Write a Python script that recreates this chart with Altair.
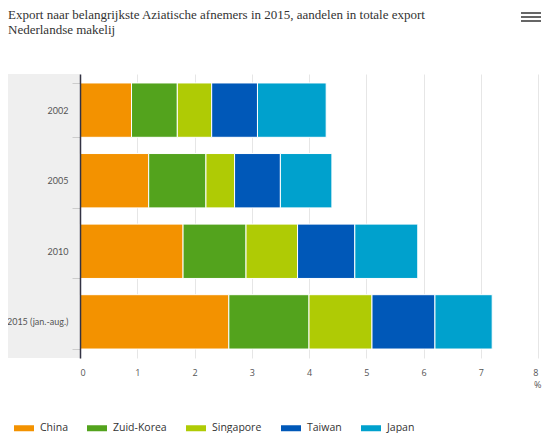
import altair as alt
import pandas as pd

years = ["2002", "2005", "2010", "2015 (jan.-aug.)"]
countries = ["China", "Zuid-Korea", "Singapore", "Taiwan", "Japan"]
colors = ["#f39200", "#53a31d", "#afcb05", "#0058b8", "#00a1cd"]
china = [0.9, 1.2, 1.8, 2.6]
zuid_korea = [0.8, 1.0, 1.1, 1.4]
singapore = [0.6, 0.5, 0.9, 1.1]
taiwan = [0.8, 0.8, 1.0, 1.1]
japan = [1.2, 0.9, 1.1, 1.0]
title_lines = ["Export naar belangrijkste Aziatische afnemers in 2015, aandelen in totale export",
               "Nederlandse makelij"]
x_ticks = [0, 1, 2, 3, 4, 5, 6, 7, 8]

series = [china, zuid_korea, singapore, taiwan, japan]
rows = []
for ci, (c, vals) in enumerate(zip(countries, series)):
    for y, v in zip(years, vals):
        rows.append({"jaar": y, "land": c, "waarde": v, "idx": ci})
df = pd.DataFrame(rows)

W, H = 458, 284
L = 72
one = pd.DataFrame({"a": [0]})

bg = alt.Chart(one).mark_rect(color="#efefef").encode(
    x=alt.value(-L), x2=alt.value(0), y=alt.value(0), y2=alt.value(H)
)

bars = alt.Chart(df).mark_bar(stroke="white", strokeWidth=1).encode(
    y=alt.Y("jaar:N", sort=years, title=None,
            scale=alt.Scale(paddingInner=0.23, paddingOuter=0.127),
            axis=alt.Axis(zindex=1, domainColor="#333344", domainWidth=1.5,
                          tickBand="extent", tickSize=8, tickColor="#cccccc",
                          labelFontSize=9, labelColor="#555555", labelFont="Lato",
                          labelPadding=4)),
    x=alt.X("waarde:Q", stack="zero", title=None,
            scale=alt.Scale(domain=[0, 8], nice=False),
            axis=alt.Axis(values=x_ticks, grid=True, gridColor="#e6e6e6", domain=False,
                          ticks=False, labelFontSize=9, labelColor="#555555",
                          labelFont="Open Sans", labelPadding=10, format="d")),
    color=alt.Color("land:N", sort=countries,
                    scale=alt.Scale(domain=countries, range=colors),
                    legend=alt.Legend(title=None, orient="none", direction="horizontal",
                                      legendX=-66, legendY=344,
                                      symbolType="M-1,-0.3H1V0.3H-1Z", symbolSize=400,
                                      symbolStrokeWidth=0, symbolOpacity=1,
                                      labelFontSize=10.5, labelColor="#333333",
                                      labelFont="Open Sans", columnPadding=19,
                                      labelOffset=6)),
    order=alt.Order("idx:Q"),
)

t1 = alt.Chart(one).mark_text(align="left", baseline="alphabetic", font="Liberation Serif",
                              fontSize=13, color="#333333").encode(
    x=alt.value(-L), y=alt.value(-55), text=alt.value(title_lines[0]))
t2 = alt.Chart(one).mark_text(align="left", baseline="alphabetic", font="Liberation Serif",
                              fontSize=13, color="#333333").encode(
    x=alt.value(-L), y=alt.value(-40), text=alt.value(title_lines[1]))
pct = alt.Chart(one).mark_text(align="right", baseline="middle", font="Open Sans",
                               fontSize=9, color="#555555").encode(
    x=alt.value(W + 3.5), y=alt.value(H + 27), text=alt.value("%"))

menu = alt.Chart(one).mark_rule(color="#666666", strokeWidth=2).encode(
    x=alt.value(441), x2=alt.value(461), y=alt.value(-61))
menu2 = alt.Chart(one).mark_rule(color="#666666", strokeWidth=2).encode(
    x=alt.value(441), x2=alt.value(461), y=alt.value(-57))
menu3 = alt.Chart(one).mark_rule(color="#666666", strokeWidth=2).encode(
    x=alt.value(441), x2=alt.value(461), y=alt.value(-53))

chart = alt.layer(bg, bars, t1, t2, pct, menu, menu2, menu3).properties(
    width=W, height=H,
    autosize=alt.AutoSizeParams(type="none"),
    padding={"left": L, "top": 66, "right": 4, "bottom": 75},
).configure_view(stroke=None)

chart.save("out.html", embed_options={"renderer": "svg", "actions": False})
